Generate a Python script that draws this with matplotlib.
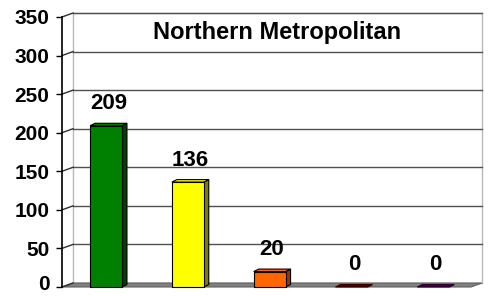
import matplotlib
matplotlib.use("Agg")
import matplotlib.pyplot as plt
from matplotlib.patches import Polygon, Rectangle
from matplotlib.transforms import offset_copy

plt.rcParams['font.family'] = ['Liberation Sans', 'DejaVu Sans']

# ---- data ----
categories = ["A", "B", "C", "D", "E"]
values = [209, 136, 20, 0, 0]
front_colors = ["#008000", "#FFFF00", "#FF6600", "#800000", "#660066"]
side_colors = ["#004000", "#808000", "#993300", "#400000", "#330033"]
title = "Northern Metropolitan"
yticks = [0, 50, 100, 150, 200, 250, 300, 350]

W, H = 490, 296
fig = plt.figure(figsize=(W / 100, H / 100), dpi=100)
ax_left, ax_right, ax_bottom, ax_top = 62, 471, 9, 279
ax = fig.add_axes([ax_left / W, ax_bottom / H, (ax_right - ax_left) / W, (ax_top - ax_bottom) / H])
xmin, xmax = -0.538, 4.462
ymin, ymax = 0, 350
ax.set_xlim(xmin, xmax)
ax.set_ylim(ymin, ymax)

pxx = (ax_right - ax_left) / (xmax - xmin)
pxy = (ax_top - ax_bottom) / (ymax - ymin)
# wall depth offsets (data units)
wdx, wdy = 11 / pxx, 4 / pxy
# bar depth offsets
bdx, bdy = 5 / pxx, 2.5 / pxy

# back wall
wall = Polygon([(xmin + wdx, wdy), (xmax + wdx, wdy), (xmax + wdx, ymax + wdy), (xmin + wdx, ymax + wdy)],
               closed=True, facecolor="white", edgecolor="#b8b8b8", lw=1.0, clip_on=False, zorder=0)
ax.add_patch(wall)
# floor
floor = Polygon([(xmin, 0), (xmax, 0), (xmax + wdx, wdy), (xmin + wdx, wdy)], closed=True,
                facecolor="#808080", edgecolor="#606060", lw=0.8, clip_on=False, zorder=1)
ax.add_patch(floor)
# grid lines on back wall and diagonals on side wall
for v in yticks:
    if v > 0:
        ax.plot([xmin + wdx, xmax + wdx], [v + wdy, v + wdy], color="#505050", lw=1.0, clip_on=False, zorder=1)
    ax.plot([xmin, xmin + wdx], [v, v + wdy], color="#303030", lw=1.0, clip_on=False, zorder=1)

# bars
width = 0.39
for i, (val, fc, sc) in enumerate(zip(values, front_colors, side_colors)):
    x0 = i - width / 2
    x1 = i + width / 2
    # side face
    ax.add_patch(Polygon([(x1, 0), (x1 + bdx, bdy), (x1 + bdx, val + bdy), (x1, val)], closed=True,
                         facecolor=sc, edgecolor="black", lw=0.8, clip_on=False, zorder=3))
    # top face
    ax.add_patch(Polygon([(x0, val), (x1, val), (x1 + bdx, val + bdy), (x0 + bdx, val + bdy)], closed=True,
                         facecolor=sc if val == 0 else fc, edgecolor="black" if val > 0 else sc,
                         lw=0.8, clip_on=False, zorder=3))
    # front face
    if val > 0:
        ax.add_patch(Rectangle((x0, 0), width, val, facecolor=fc, edgecolor="black", lw=0.8,
                               clip_on=False, zorder=4))
    ax.text(i + bdx / 2, val + 15, str(val), ha="center", va="bottom", fontsize=16,
            fontweight="bold", zorder=5)

# title inside plot
ax.text((xmin + xmax) / 2 + wdx, 330, title, ha="center", va="center", fontsize=17,
        fontweight="bold", zorder=5)

# axes styling
for s in ["top", "right", "bottom"]:
    ax.spines[s].set_visible(False)
ax.spines["left"].set_color("black")
ax.spines["left"].set_linewidth(1.2)
ax.set_xticks([])
ax.set_yticks(yticks)
ax.set_yticklabels([str(v) for v in yticks], fontsize=15, fontweight="bold")
ax.tick_params(axis="y", length=4, width=1, pad=5)
ax.patch.set_visible(False)
# nudge the bottom tick label slightly up so it stays inside the figure
lbl0 = ax.get_yticklabels()[0]
lbl0.set_va("bottom")
lbl0.set_y(0)
lbl0.set_transform(offset_copy(lbl0.get_transform(), fig, x=0, y=-7, units="dots"))

fig.savefig("out.png", dpi=100, facecolor="white")
